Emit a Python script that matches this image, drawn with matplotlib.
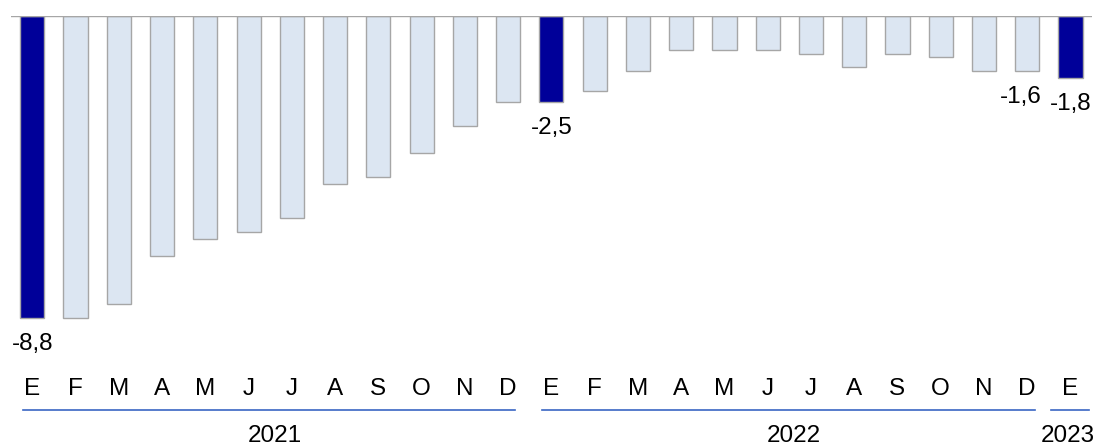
import numpy as np
import matplotlib
matplotlib.use("Agg")
import matplotlib.pyplot as plt

plt.rcParams['font.family'] = ['Liberation Sans', 'DejaVu Sans']

# monthly values, Jan 2021 .. Jan 2023
months = ['E', 'F', 'M', 'A', 'M', 'J', 'J', 'A', 'S', 'O', 'N', 'D',
          'E', 'F', 'M', 'A', 'M', 'J', 'J', 'A', 'S', 'O', 'N', 'D',
          'E']
values = [-8.8, -8.8, -8.4, -7.0, -6.5, -6.3, -5.9, -4.9, -4.7, -4.0, -3.2, -2.5,
          -2.5, -2.2, -1.6, -1.0, -1.0, -1.0, -1.1, -1.5, -1.1, -1.2, -1.6, -1.6,
          -1.8]
years = ['2021', '2022', '2023']
year_first = [0, 12, 24]
year_last = [11, 23, 24]
highlight = [0, 12, 24]
labelled = [0, 12, 23, 24]

dark = '#000099'
light = '#dce6f2'
edge = '#a6a6a6'
blue = '#3a66c4'
fs = 17.5

fig = plt.figure(figsize=(10.95, 4.48), dpi=100)
ax = fig.add_axes([0.0098, 0.0, 0.9875, 1 - 16 / 448])

x = np.arange(len(values))
colors = [dark if i in highlight else light for i in x]
ax.bar(x, values, width=0.56, color=colors, edgecolor=edge, linewidth=1, zorder=2)
ax.axhline(0, color=edge, linewidth=1, zorder=3)

ax.set_xlim(-0.5, len(values) - 0.5)
ax.set_ylim(-12.6, 0)
ax.axis('off')

for i in labelled:
    dx = -6 if i == 23 else 0
    ax.annotate(f'{values[i]:.1f}'.replace('.', ','), (x[i], values[i]),
                xytext=(dx, -26), textcoords='offset pixels',
                ha='center', va='center', fontsize=fs)

tr = ax.get_xaxis_transform()
for i, m in enumerate(months):
    ax.text(x[i], 1 - (389 - 16) / 432, m, transform=tr,
            ha='center', va='center', fontsize=fs)

for name, a, b in zip(years, year_first, year_last):
    if a == b:
        x0, x1 = a - 0.44, b + 0.42
        xc = b - 0.06
    else:
        x0, x1 = a - 0.22, b + 0.17
        xc = (a + b) / 2 + 0.1
    ax.plot([x0, x1], [1 - (410 - 16) / 432] * 2, transform=tr,
            color=blue, linewidth=1.2, clip_on=False)
    ax.text(xc, 1 - (436 - 16) / 432, name, transform=tr,
            ha='center', va='center', fontsize=fs)

fig.savefig('out.png', dpi=100)
